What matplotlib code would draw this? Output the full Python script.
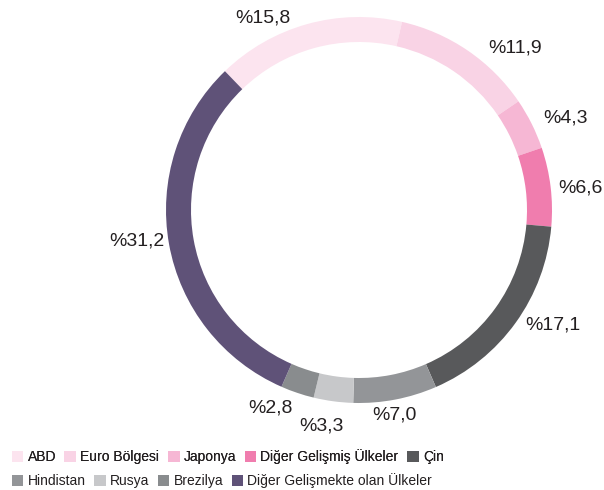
import matplotlib
matplotlib.use("Agg")
import matplotlib.pyplot as plt
from matplotlib.patches import Patch

plt.rcParams['font.family'] = ['Liberation Sans', 'DejaVu Sans']

regions = ["ABD", "Euro Bölgesi", "Japonya", "Diğer Gelişmiş Ülkeler", "Çin",
           "Hindistan", "Rusya", "Brezilya", "Diğer Gelişmekte olan Ülkeler"]
shares = [15.8, 11.9, 4.3, 6.6, 17.1, 7.0, 3.3, 2.8, 31.2]
colors = ["#fce4ef", "#f9d3e5", "#f6b7d4", "#f07dae", "#58595b",
          "#939598", "#c7c8ca", "#898c8e", "#5f5278"]
labels = ["%" + f"{v:.1f}".replace(".", ",") for v in shares]

# label anchor points (pixels, from top-left)
label_pos = [(263, 18), (515, 48), (565, 118), (580, 188), (553, 325),
             (394, 415), (321, 426), (270, 408), (137, 241)]

W, H = 604, 490
fig = plt.figure(figsize=(W / 100, H / 100), dpi=100)
ax = fig.add_axes([0, 0, 1, 1])
ax.set_xlim(0, W)
ax.set_ylim(0, H)
ax.set_aspect('equal')
ax.axis('off')

cx, cy, R = 359, H - 210, 193
wedges, _ = ax.pie(shares, colors=colors, startangle=134, counterclock=False,
                   center=(cx, cy), radius=R,
                   wedgeprops=dict(width=25, linewidth=0))
ax.set_xlim(0, W)
ax.set_ylim(0, H)

for lab, (x, y) in zip(labels, label_pos):
    ax.text(x, H - y, lab, fontsize=14, ha='center', va='center', color='#231f20')

handles = [Patch(facecolor=c, edgecolor='none') for c in colors]
common = dict(frameon=False, fontsize=10, handlelength=0.85, handleheight=0.85,
              handletextpad=0.3, columnspacing=0.6, borderaxespad=0,
              labelcolor='#231f20')
leg1 = fig.legend(handles[:5], regions[:5], ncol=5, loc='center left',
                  bbox_to_anchor=(0.01, 1 - 457 / H), **common)
fig.add_artist(leg1)
fig.legend(handles[5:], regions[5:], ncol=4, loc='center left',
           bbox_to_anchor=(0.01, 1 - 481 / H), **common)

fig.savefig("out.png", dpi=100)
